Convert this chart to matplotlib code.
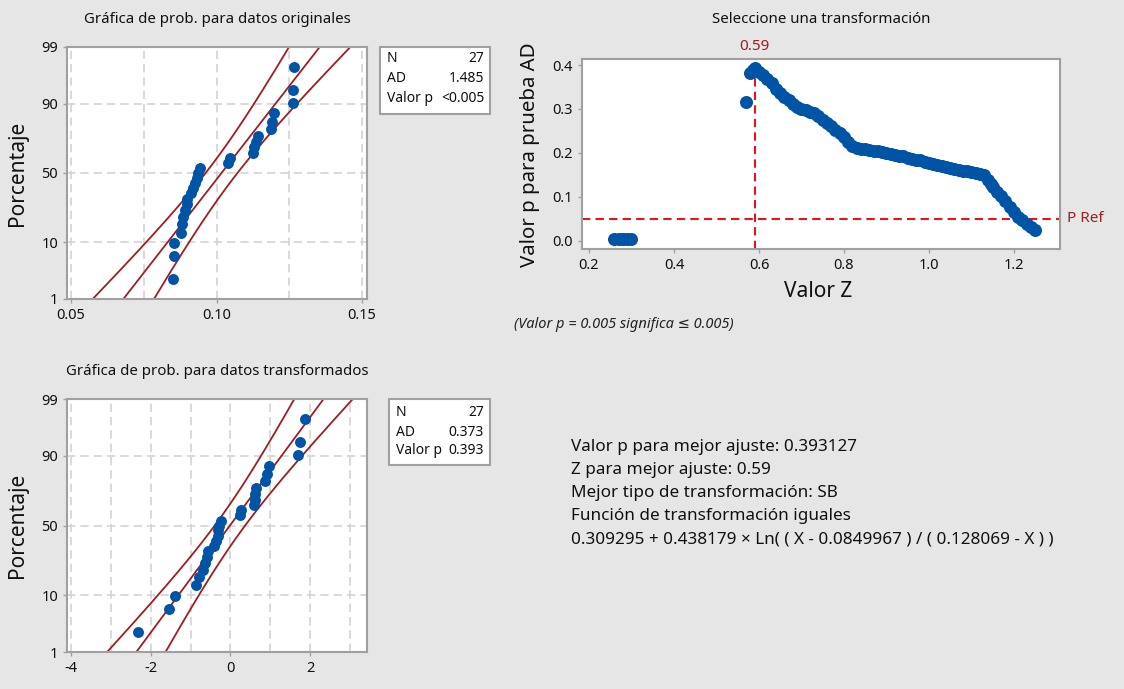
import numpy as np
import matplotlib.pyplot as plt
from matplotlib.patches import Rectangle
from statistics import NormalDist

plt.rcParams['font.family'] = ['Noto Sans', 'DejaVu Sans']

nd = NormalDist()

# data
orig_data = [0.0851, 0.0854, 0.0855, 0.0877, 0.0880, 0.0886, 0.0891, 0.0897, 0.0900,
             0.0911, 0.0920, 0.0926, 0.0932, 0.0937, 0.0943, 0.1041, 0.1046, 0.1126,
             0.1130, 0.1136, 0.1144, 0.1186, 0.1190, 0.1198, 0.1262, 0.1262, 0.1266]
trans_data = [-2.32, -1.53, -1.38, -0.86, -0.78, -0.69, -0.63, -0.58, -0.55, -0.40,
              -0.36, -0.32, -0.30, -0.28, -0.23, 0.23, 0.26, 0.60, 0.61, 0.63, 0.65,
              0.88, 0.91, 0.96, 1.71, 1.75, 1.87]
orig_mu, orig_sd = 0.1017, 0.0145
trans_mu, trans_sd = -0.01, 1.01

z_curve = [0.26, 0.27, 0.28, 0.29, 0.30, 0.57, 0.58, 0.585, 0.59,
           0.60, 0.61, 0.62, 0.63, 0.64, 0.65, 0.66, 0.67, 0.68, 0.69,
           0.70, 0.71, 0.72, 0.73, 0.74, 0.75, 0.76, 0.77, 0.78, 0.79,
           0.80, 0.81, 0.82, 0.83, 0.84, 0.85, 0.86, 0.87, 0.88, 0.89,
           0.90, 0.91, 0.92, 0.93, 0.94, 0.95, 0.96, 0.97, 0.98, 0.99,
           1.00, 1.01, 1.02, 1.03, 1.04, 1.05, 1.06, 1.07, 1.08, 1.09,
           1.10, 1.11, 1.12, 1.13, 1.14, 1.145, 1.15, 1.16, 1.17, 1.18, 1.19,
           1.20, 1.21, 1.22, 1.23, 1.24, 1.25]
p_curve = [0.004, 0.004, 0.004, 0.004, 0.004, 0.317, 0.382, 0.388, 0.393,
           0.385, 0.377, 0.368, 0.358, 0.346, 0.337, 0.328, 0.320, 0.311, 0.304,
           0.300, 0.297, 0.294, 0.290, 0.283, 0.275, 0.268, 0.261, 0.253, 0.245,
           0.236, 0.226, 0.216, 0.211, 0.210, 0.208, 0.207, 0.205, 0.204, 0.202,
           0.200, 0.198, 0.196, 0.194, 0.192, 0.189, 0.187, 0.185, 0.183, 0.180,
           0.177, 0.175, 0.172, 0.170, 0.168, 0.166, 0.164, 0.162, 0.160, 0.158,
           0.157, 0.155, 0.153, 0.149, 0.139, 0.130, 0.122, 0.112, 0.102, 0.090, 0.077,
           0.065, 0.055, 0.047, 0.039, 0.032, 0.025]
best_z = 0.59
p_ref = 0.05

stats_orig = [("N", "27"), ("AD", "1.485"), ("Valor p", "<0.005")]
stats_trans = [("N", "27"), ("AD", "0.373"), ("Valor p", "0.393")]
summary_lines = ["Valor p para mejor ajuste: 0.393127",
                 "Z para mejor ajuste: 0.59",
                 "Mejor tipo de transformación: SB",
                 "Función de transformación iguales",
                 "0.309295 + 0.438179 × Ln( ( X - 0.0849967 ) / ( 0.128069 - X ) )"]
pct_ticks = [1, 10, 50, 90, 99]

bg = "#e6e6e6"
blue = "#0054a6"
dred = "#a01d22"
red = "#e3141c"
frame = "#a0a0a0"
txt = "#111111"

W, H = 1124, 689


def fx(px):
    return px / W


def fy(py):
    return 1 - py / H


fig = plt.figure(figsize=(W / 100, H / 100), dpi=100, facecolor=bg)


def style_axes(ax):
    for s in ax.spines.values():
        s.set_color(frame)
        s.set_linewidth(1.5)
    ax.tick_params(colors=frame, labelcolor=txt, labelsize=10.5, length=3, width=1)


def prob_plot(ax, data, mu, sd, xlim, xticks, xlabels, xgrid, title):
    data = np.sort(np.array(data))
    n = len(data)
    pp = (np.arange(1, n + 1) - 0.3) / (n + 0.4)   # median ranks
    zs = np.array([nd.inv_cdf(p) for p in pp])
    zz = np.linspace(nd.inv_cdf(0.002), nd.inv_cdf(0.998), 300)
    fit = mu + zz * sd
    half = 1.96 * sd * np.sqrt((1 + zz ** 2 / 2) / n)
    ax.set_facecolor("white")
    for g in xgrid:
        ax.axvline(g, color="#d3d3d3", lw=1.2, ls=(0, (5, 3)), zorder=0)
    for t in [10, 50, 90]:
        ax.axhline(nd.inv_cdf(t / 100), color="#d3d3d3", lw=1.2, ls=(0, (5, 3)), zorder=0)
    for line in (fit - half, fit, fit + half):
        ax.plot(line, zz, color=dred, lw=1.3, zorder=2)
    ax.scatter(data, zs, s=62, color=blue, linewidths=0, zorder=3)
    ax.set_xlim(*xlim)
    ax.set_ylim(nd.inv_cdf(0.01), nd.inv_cdf(0.99))
    ax.set_yticks([nd.inv_cdf(t / 100) for t in pct_ticks])
    ax.set_yticklabels([str(t) for t in pct_ticks])
    ax.set_xticks(xticks)
    ax.set_xticklabels(xlabels)
    style_axes(ax)
    ax.set_title(title, fontsize=10.8, color=txt, pad=17)


def stats_box(rows, x0, x1, y0, y1, ys):
    fig.add_artist(Rectangle((fx(x0), fy(y1)), (x1 - x0) / W, (y1 - y0) / H,
                             transform=fig.transFigure, facecolor="white",
                             edgecolor=frame, lw=1.5))
    for (lab, val), yy in zip(rows, ys):
        fig.text(fx(x0 + 7), fy(yy), lab, fontsize=10, color=txt, va="center", ha="left")
        fig.text(fx(x1 - 6), fy(yy), val, fontsize=10, color=txt, va="center", ha="right")


# original data probability plot
ax1 = fig.add_axes([fx(67), fy(299), 300 / W, (299 - 47) / H])
prob_plot(ax1, orig_data, orig_mu, orig_sd, (0.0486, 0.1517),
          [0.05, 0.10, 0.15], ["0.05", "0.10", "0.15"],
          [0.05, 0.075, 0.10, 0.125, 0.15],
          "Gráfica de prob. para datos originales")
fig.text(fx(18), fy(173), "Porcentaje", rotation=90, fontsize=15, color=txt,
         ha="center", va="center")
stats_box(stats_orig, 380, 490, 47, 114, [59, 79, 98])

# transformed data probability plot
ax3 = fig.add_axes([fx(67), fy(652), 300 / W, (652 - 399) / H])
prob_plot(ax3, trans_data, trans_mu, trans_sd, (-4.1, 3.43),
          [-4, -2, 0, 2], ["-4", "-2", "0", "2"],
          [-4, -3, -2, -1, 0, 1, 2, 3],
          "Gráfica de prob. para datos transformados")
fig.text(fx(18), fy(525), "Porcentaje", rotation=90, fontsize=15, color=txt,
         ha="center", va="center")
stats_box(stats_trans, 389, 490, 399, 465, [412, 432, 451])

# transformation selection plot
ax2 = fig.add_axes([fx(581.6), fy(249.3), (1060.3 - 581.6) / W, (249.3 - 59.3) / H])
ax2.set_facecolor("white")
ax2.axvline(best_z, color=red, lw=1.5, ls=(0, (4, 2.5)), zorder=1)
ax2.axhline(p_ref, color=red, lw=1.5, ls=(0, (4, 2.5)), zorder=1)
ax2.scatter(z_curve, p_curve, s=88, color=blue, linewidths=0, zorder=3)
ax2.set_xlim(0.1826, 1.309)
ax2.set_ylim(-0.019, 0.413)
ax2.set_xticks([0.2, 0.4, 0.6, 0.8, 1.0, 1.2])
ax2.set_xticklabels(["0.2", "0.4", "0.6", "0.8", "1.0", "1.2"])
ax2.set_yticks([0.0, 0.1, 0.2, 0.3, 0.4])
ax2.set_yticklabels(["0.0", "0.1", "0.2", "0.3", "0.4"])
style_axes(ax2)
ax2.set_title("Seleccione una transformación", fontsize=10.8, color=txt, pad=26)
ax2.text(best_z, 1.07, f"{best_z:.2f}", transform=ax2.get_xaxis_transform(),
         color=dred, fontsize=11, ha="center", va="center")
ax2.text(1.015, p_ref, "P Ref", transform=ax2.get_yaxis_transform(),
         color=dred, fontsize=11, ha="left", va="center")
fig.text(fx(818), fy(292), "Valor Z", fontsize=15, color=txt, ha="center", va="center")
fig.text(fx(530), fy(155), "Valor p para prueba AD", rotation=90, fontsize=14.7,
         color=txt, ha="center", va="center")
fig.text(fx(514), fy(325), "(Valor p = 0.005 significa ≤ 0.005)", fontsize=10.5,
         style="italic", color="#222222", ha="left", va="center")

# summary text
for i, line in enumerate(summary_lines):
    fig.text(fx(571), fy(447 + i * 23), line, fontsize=12.3, color=txt,
             ha="left", va="center")

fig.savefig("out.png", dpi=100, facecolor=bg)
